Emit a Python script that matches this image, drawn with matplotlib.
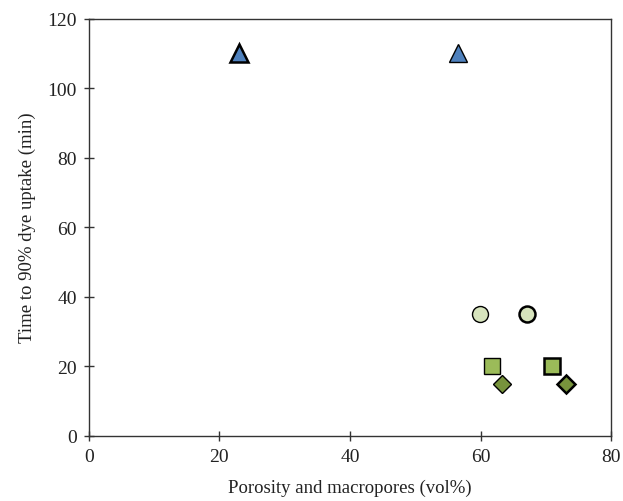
import matplotlib
matplotlib.use("Agg")
import matplotlib.pyplot as plt

# Data
tri_x = [23.0, 56.6]
tri_y = [110, 110]
circ_x = [59.9, 67.1]
circ_y = [35, 35]
sq_x = [61.8, 71.0]
sq_y = [20, 20]
dia_x = [63.2, 73.1]
dia_y = [15, 15]

x_ticks = [0, 20, 40, 60, 80]
y_ticks = [0, 20, 40, 60, 80, 100, 120]

plt.rcParams['font.family'] = ['Liberation Serif', 'DejaVu Serif']

fig = plt.figure(figsize=(6.23, 5.02), dpi=100)
ax = fig.add_axes([0.1424, 0.130, 0.8388, 0.831])

def draw(xs, ys, marker, ms, color, widths):
    for x, y, w in zip(xs, ys, widths):
        ax.plot([x], [y], linestyle='none', marker=marker, markersize=ms,
                markerfacecolor=color, markeredgecolor='black',
                markeredgewidth=w, zorder=3)

draw(tri_x, tri_y, '^', 13.5, '#4f81bd', [1.8, 1.0])
draw(circ_x, circ_y, 'o', 11.5, '#d7e4bd', [1.0, 1.8])
draw(sq_x, sq_y, 's', 11.5, '#9bbb59', [1.0, 1.8])
draw(dia_x, dia_y, 'D', 9.5, '#77933c', [1.0, 1.8])

ax.set_xlim(0, 80)
ax.set_ylim(0, 120)
ax.set_xticks(x_ticks)
ax.set_yticks(y_ticks)
ax.tick_params(direction='inout', length=7, width=1, colors='#333333',
               labelcolor='#222222', labelsize=14, pad=5)
for s in ax.spines.values():
    s.set_color('#333333')
    s.set_linewidth(1.0)

ax.set_xlabel('Porosity and macropores (vol%)', fontsize=13.5, color='#222222', labelpad=10)
ax.set_ylabel('Time to 90% dye uptake (min)', fontsize=13.5, color='#222222', labelpad=8)

fig.savefig('out.png', dpi=100)
